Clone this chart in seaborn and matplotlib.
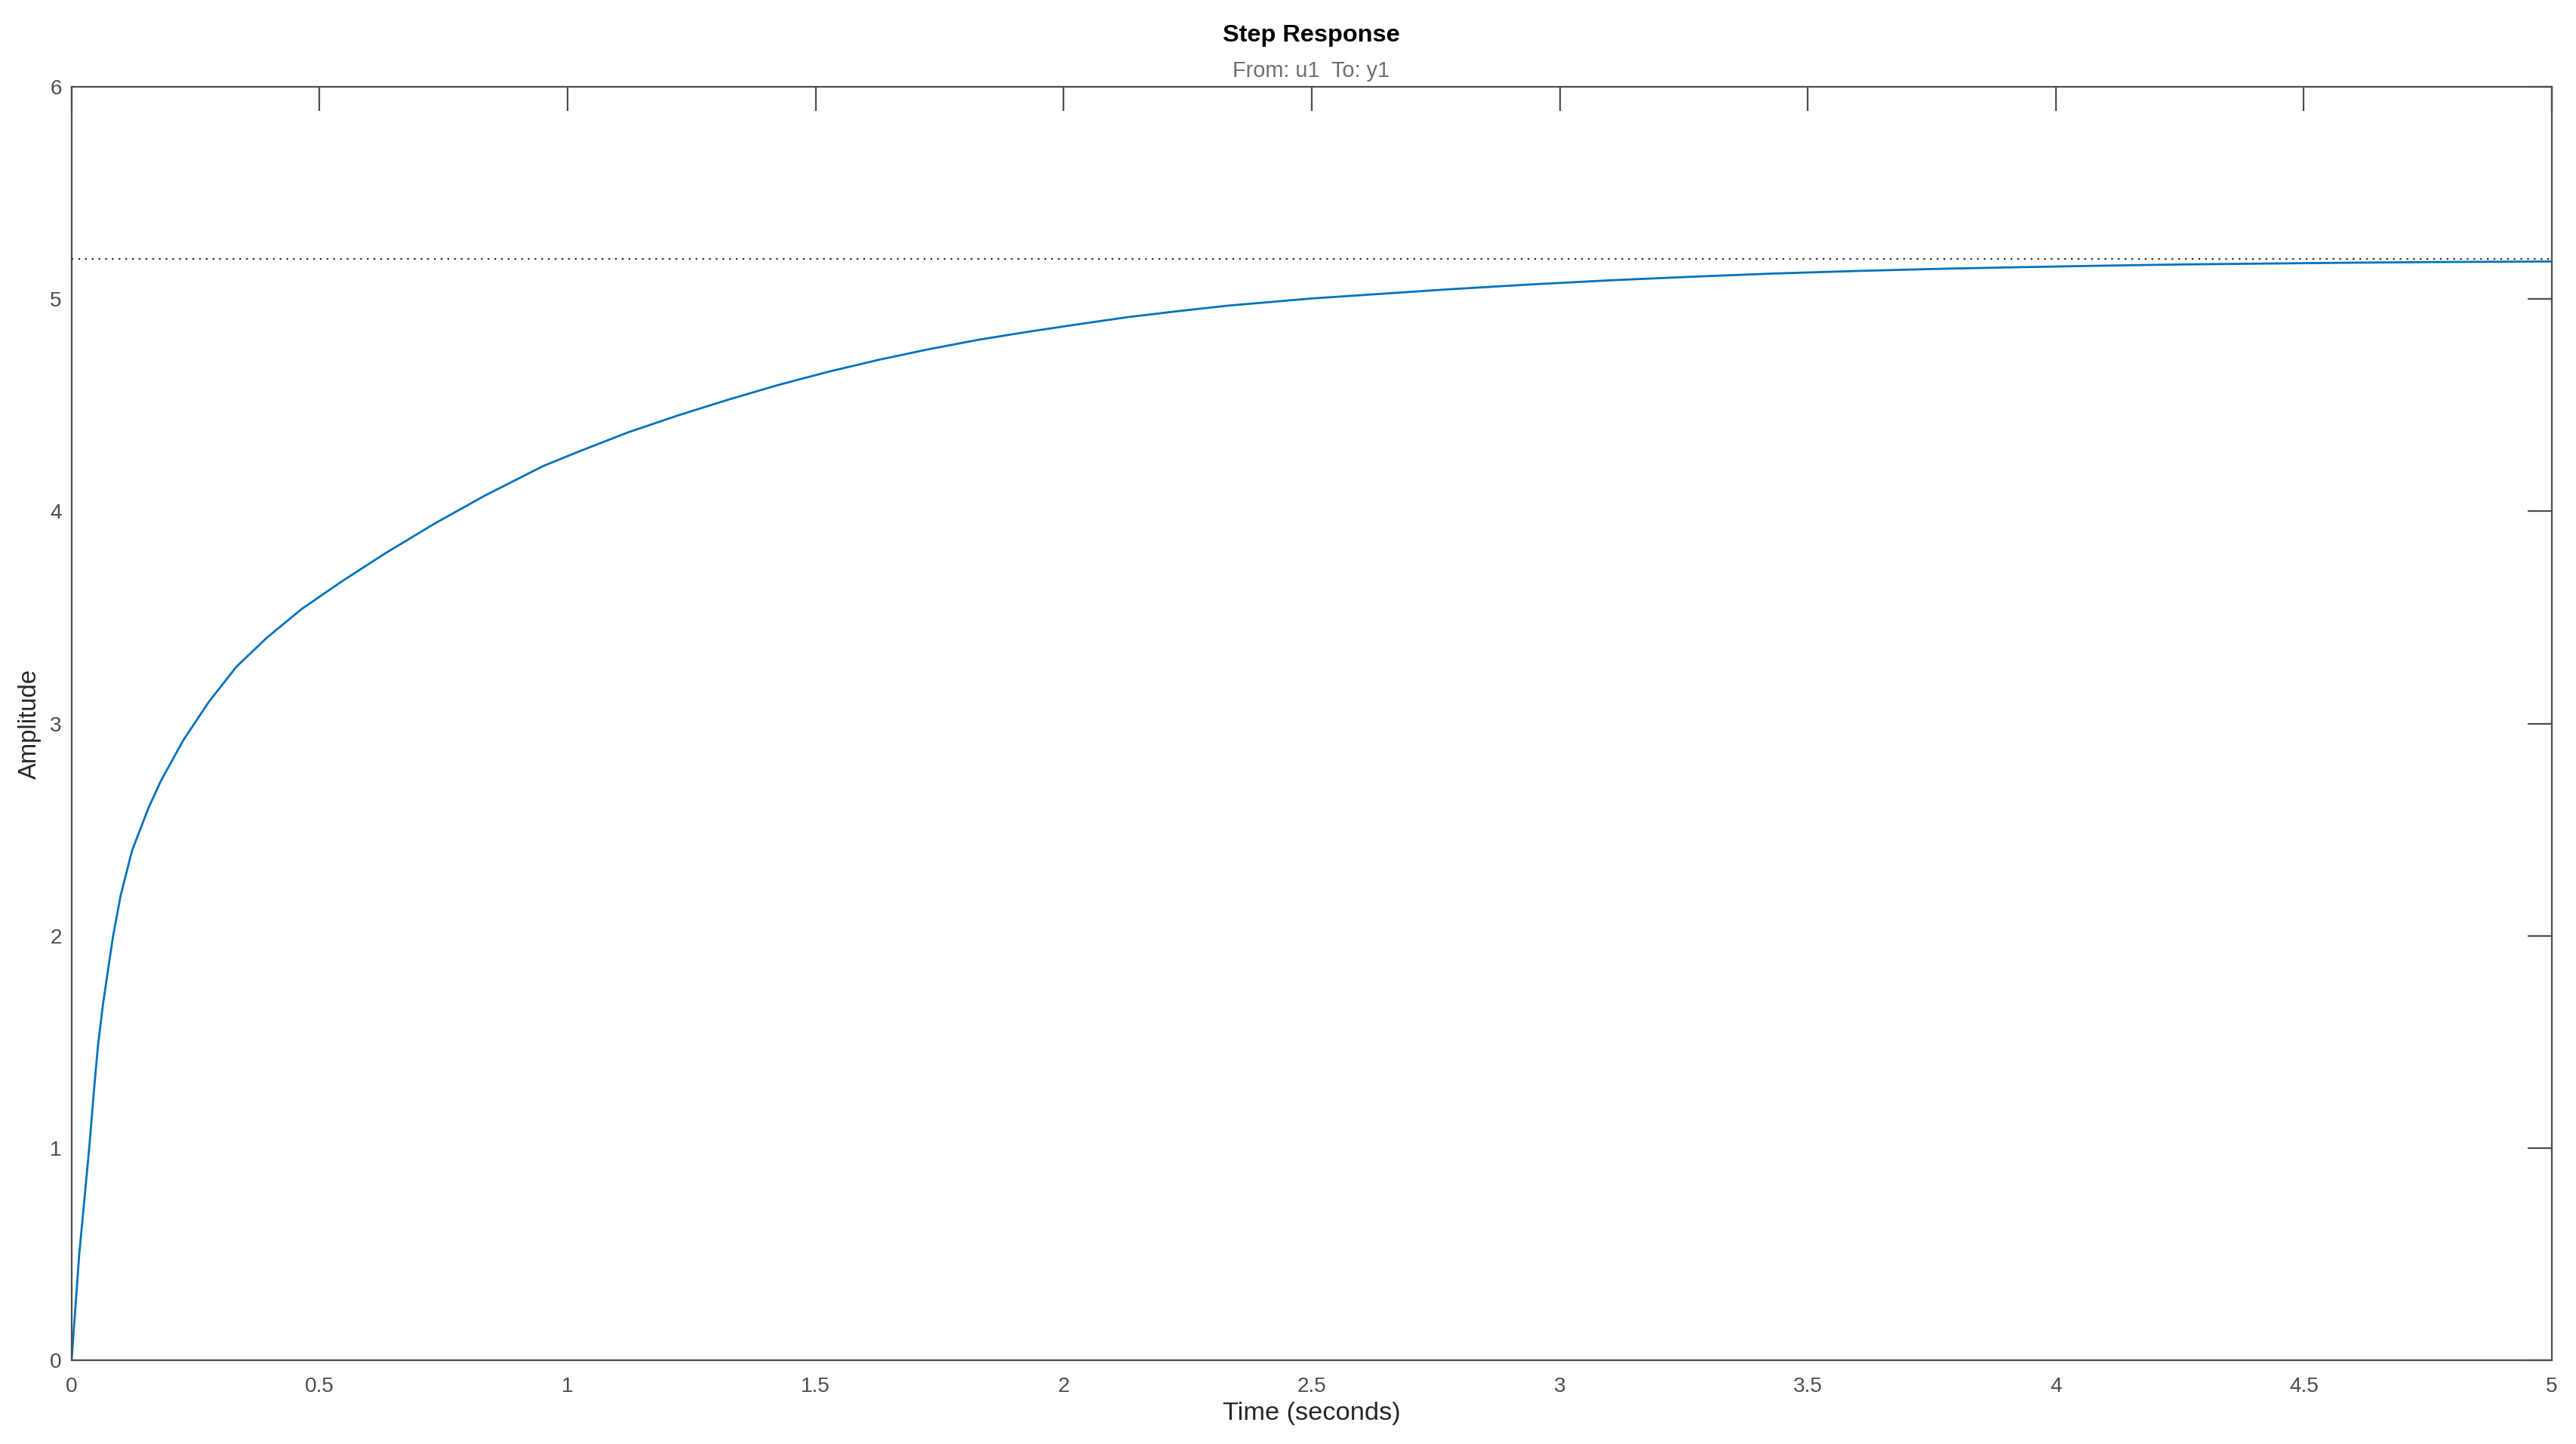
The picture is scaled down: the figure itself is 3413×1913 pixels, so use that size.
import numpy as np
import pandas as pd
import matplotlib
matplotlib.use("Agg")
import matplotlib.pyplot as plt
import seaborn as sns

# Step response
tempo = [0.0, 0.0152, 0.0355, 0.0456, 0.0532, 0.0634, 0.076, 0.0837, 0.0989,
         0.1217, 0.1546, 0.180, 0.2256, 0.2763, 0.332, 0.393, 0.464, 0.545,
         0.631, 0.7326, 0.834, 0.9506, 1.021, 1.122, 1.223, 1.324, 1.4245,
         1.525, 1.626, 1.727, 1.828, 1.929, 2.029, 2.130, 2.231, 2.332,
         2.502, 2.771, 2.936, 3.10, 3.266, 3.43, 3.596, 3.76, 3.926, 4.09,
         4.256, 4.42, 4.586, 4.75, 4.916, 5.0]
amplitude = [0.0, 0.495, 1.0, 1.286, 1.484, 1.68, 1.88, 2.0, 2.19,
             2.40, 2.60, 2.73, 2.923, 3.101, 3.267, 3.403, 3.54, 3.67,
             3.80, 3.943, 4.075, 4.213, 4.28, 4.372, 4.452, 4.526, 4.595,
             4.657, 4.713, 4.763, 4.808, 4.846, 4.881, 4.915, 4.943, 4.969,
             5.003, 5.045, 5.068, 5.088, 5.105, 5.12, 5.132, 5.142, 5.150, 5.157,
             5.163, 5.167, 5.171, 5.174, 5.176, 5.177]
valor_final = 5.19

xticks = [0, 0.5, 1, 1.5, 2, 2.5, 3, 3.5, 4, 4.5, 5]
xticklabels = ["0", "0.5", "1", "1.5", "2", "2.5", "3", "3.5", "4", "4.5", "5"]
yticks = [0, 1, 2, 3, 4, 5, 6]

df = pd.DataFrame({"tempo": tempo, "amplitude": amplitude})

sns.set_theme(style="white")
plt.rcParams["font.family"] = ["Liberation Sans", "DejaVu Sans"]

cinza = "#4d4d4d"
fig = plt.figure(figsize=(3413 / 200, 1913 / 200), dpi=200)
ax = fig.add_axes([0.0278, 0.058, 0.9628, 0.8819])

sns.lineplot(data=df, x="tempo", y="amplitude", ax=ax, color="#0072BD",
             linewidth=1.0, estimator=None, sort=False)
ax.axhline(valor_final, color="#262626", linewidth=0.8, linestyle=(0, (1, 3)))

ax.set_xlim(0, 5)
ax.set_ylim(0, 6)
ax.set_xticks(xticks)
ax.set_xticklabels(xticklabels)
ax.set_yticks(yticks)
ax.tick_params(direction="in", length=11.5, width=0.8, colors=cinza,
               top=True, right=True, labelsize=10.1)
ax.tick_params(axis="x", pad=7.9)
ax.tick_params(axis="y", pad=4.7)
for s in ax.spines.values():
    s.set_visible(True)
    s.set_color(cinza)
    s.set_linewidth(0.8)

ax.set_xlabel("Time (seconds)", fontsize=12.4, color="#262626")
ax.set_ylabel("Amplitude", fontsize=11.8, color="#262626")
ax.xaxis.set_label_coords(0.5, -0.0326)
ax.yaxis.set_label_coords(-0.0122, 0.5)

fig.text(0.509, 0.9712, "Step Response", ha="center", va="baseline",
         fontsize=11.7, fontweight="bold", color="black")
fig.text(0.509, 0.9467, "From: u1  To: y1", ha="center", va="baseline",
         fontsize=10.4, color="#6e6e6e")

fig.savefig("out.png", dpi=200, facecolor="white")
